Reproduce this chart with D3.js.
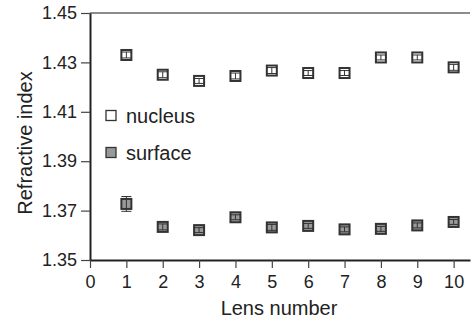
<!DOCTYPE html>
<html>
<head>
<meta charset="utf-8">
<script src="https://cdn.jsdelivr.net/npm/d3@7"></script>
<style>
  body { margin: 0; background: #fff; }
  text { font-family: "Liberation Sans", Arial, sans-serif; fill: #222; }
</style>
</head>
<body>
<div id="chart"></div>
<script>
// data
const lenses = [1, 2, 3, 4, 5, 6, 7, 8, 9, 10];
const nucleus = [1.4330, 1.4250, 1.4225, 1.4245, 1.4267, 1.4257, 1.4257, 1.4320, 1.4320, 1.4280];
const nucleusErr = [0.0012, 0.0012, 0.0010, 0.0012, 0.0012, 0.0010, 0.0010, 0.0010, 0.0010, 0.0012];
const surface = [1.3727, 1.3634, 1.3621, 1.3673, 1.3632, 1.3638, 1.3624, 1.3626, 1.3640, 1.3654];
const surfaceErr = [0.0030, 0.0012, 0.0010, 0.0010, 0.0012, 0.0010, 0.0010, 0.0010, 0.0010, 0.0010];
const yTicks = [1.35, 1.37, 1.39, 1.41, 1.43, 1.45];
const xTicks = [0, 1, 2, 3, 4, 5, 6, 7, 8, 9, 10];

const W = 473, H = 327;
const margin = {top: 13, right: 3, bottom: 67, left: 90};

const svg = d3.select('#chart').append('svg')
  .attr('width', W)
  .attr('height', H);

const x = d3.scaleLinear().domain([0, 10.45]).range([margin.left, W - margin.right]);
const y = d3.scaleLinear().domain([1.35, 1.45]).range([H - margin.bottom, margin.top]);

// top frame line
svg.append('line')
  .attr('x1', x(0)).attr('x2', W - margin.right)
  .attr('y1', y(1.45)).attr('y2', y(1.45))
  .attr('stroke', '#666').attr('stroke-width', 1.5);

// Y axis
const yAxis = svg.append('g')
  .attr('transform', 'translate(' + x(0) + ',0)')
  .call(d3.axisLeft(y).tickValues(yTicks).tickFormat(d3.format('.2f')).tickSize(9).tickPadding(4).tickSizeOuter(0));
yAxis.select('.domain').attr('stroke', '#222').attr('stroke-width', 2);
yAxis.selectAll('.tick line').attr('stroke', '#444').attr('stroke-width', 1.2);
yAxis.selectAll('.tick text').style('font-size', '18px').attr('fill', '#333');

// X axis
const xAxis = svg.append('g')
  .attr('transform', 'translate(0,' + y(1.35) + ')')
  .call(d3.axisBottom(x).tickValues(xTicks).tickFormat(d3.format('d')).tickSize(8).tickPadding(7).tickSizeOuter(0));
xAxis.select('.domain').attr('stroke', '#222').attr('stroke-width', 2);
xAxis.selectAll('.tick line').attr('stroke', '#444').attr('stroke-width', 1.2);
xAxis.selectAll('.tick text').style('font-size', '18px').attr('fill', '#333');

// axis titles
svg.append('text')
  .attr('transform', 'translate(32,143) rotate(-90)')
  .attr('text-anchor', 'middle')
  .style('font-size', '20px')
  .text('Refractive index');

svg.append('text')
  .attr('x', 279)
  .attr('y', 315)
  .attr('text-anchor', 'middle')
  .style('font-size', '20px')
  .text('Lens number');

const box = 10;

function drawSeries(values, errs, fill, cls) {
  const pts = lenses.map((l, i) => ({x: l, y: values[i], e: errs[i]}));
  const g = svg.append('g').attr('class', cls);

  g.selectAll('rect')
    .data(pts)
    .enter().append('rect')
      .attr('x', d => x(d.x) - box / 2)
      .attr('y', d => y(d.y) - box / 2)
      .attr('width', box)
      .attr('height', box)
      .attr('fill', fill)
      .attr('stroke', '#333')
      .attr('stroke-width', 2);

  // error bars
  const eb = g.selectAll('g.err')
    .data(pts)
    .enter().append('g').attr('class', 'err');
  eb.append('line')
    .attr('x1', d => x(d.x)).attr('x2', d => x(d.x))
    .attr('y1', d => y(d.y + d.e)).attr('y2', d => y(d.y - d.e))
    .attr('stroke', '#333').attr('stroke-width', 1);
  eb.append('line')
    .attr('x1', d => x(d.x) - 5).attr('x2', d => x(d.x) + 5)
    .attr('y1', d => y(d.y + d.e)).attr('y2', d => y(d.y + d.e))
    .attr('stroke', '#333').attr('stroke-width', 1);
  eb.append('line')
    .attr('x1', d => x(d.x) - 5).attr('x2', d => x(d.x) + 5)
    .attr('y1', d => y(d.y - d.e)).attr('y2', d => y(d.y - d.e))
    .attr('stroke', '#333').attr('stroke-width', 1);
}

drawSeries(nucleus, nucleusErr, '#fff', 'nucleus');
drawSeries(surface, surfaceErr, '#999', 'surface');

// legend
const legendItems = [
  {name: 'nucleus', fill: '#fff', y: 115.5},
  {name: 'surface', fill: '#999', y: 152.5}
];
const lg = svg.append('g').attr('class', 'legend');
const items = lg.selectAll('g')
  .data(legendItems)
  .enter().append('g')
    .attr('transform', d => 'translate(106,' + d.y + ')');
items.append('rect')
  .attr('x', 0).attr('y', -5)
  .attr('width', 10).attr('height', 10)
  .attr('fill', d => d.fill)
  .attr('stroke', '#333')
  .attr('stroke-width', 1.3);
items.append('text')
  .attr('x', 20).attr('y', 7)
  .style('font-size', '20px')
  .text(d => d.name);
</script>
</body>
</html>
